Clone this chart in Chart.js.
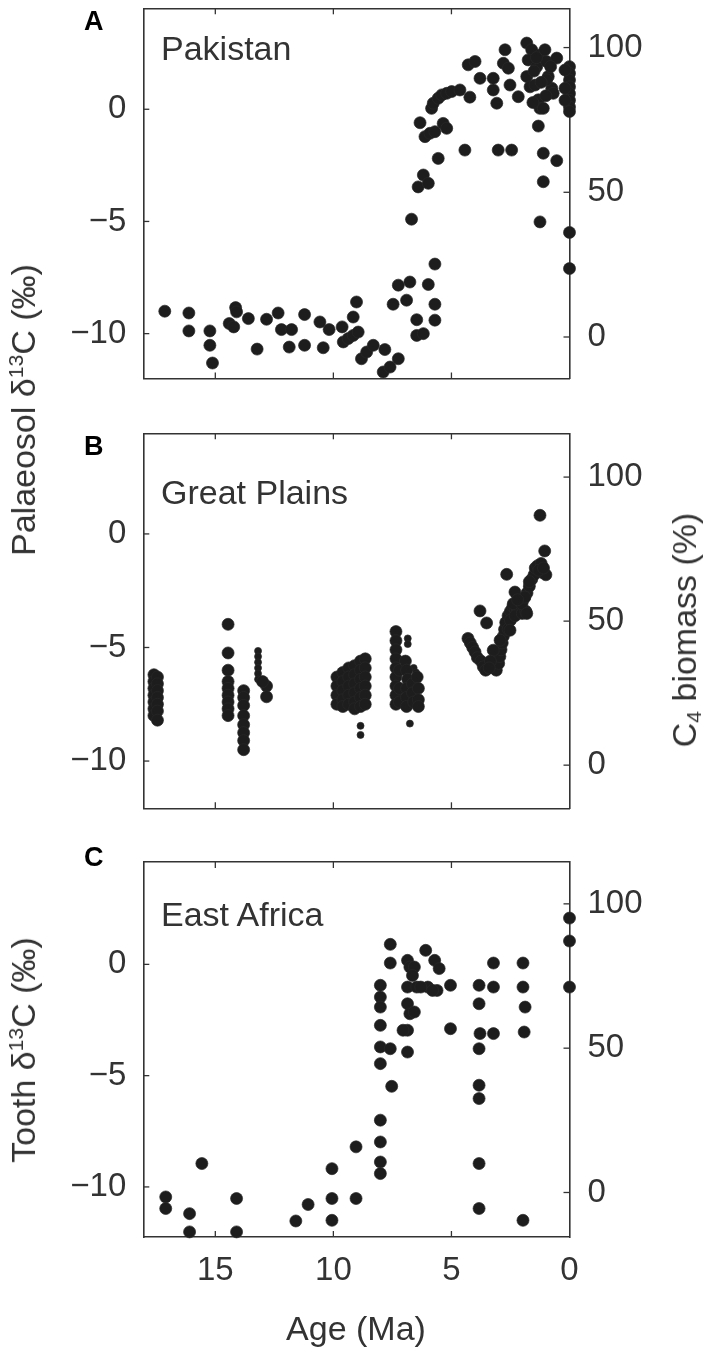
<!DOCTYPE html>
<html>
<head>
<meta charset="utf-8">
<script src="https://cdn.jsdelivr.net/npm/chart.js@4.4.1/dist/chart.umd.min.js"></script>
<style>
  html, body { margin:0; padding:0; background:#fff; }
  body { width:709px; height:1355px; position:relative; overflow:hidden;
         font-family:'Liberation Sans', Arial, Helvetica, sans-serif; }
  canvas { position:absolute; left:0; }
  .t { position:absolute; line-height:1; white-space:nowrap; color:#333; font-size:34px; }
  .vc { transform:translate(0,-50%); }
  .cc { transform:translate(-50%,-50%); }
  .rot { transform:translate(-50%,-50%) rotate(-90deg); }
  .bold { font-weight:bold; color:#000; font-size:27px; }
  .sup { font-size:0.62em; position:relative; top:-0.55em; }
  .sub { font-size:0.62em; position:relative; top:0.25em; }
</style>
</head>
<body>
<canvas id="cA" width="709" height="420" style="top:0px"></canvas>
<canvas id="cB" width="709" height="420" style="top:420px"></canvas>
<canvas id="cC" width="709" height="515" style="top:840px"></canvas>

<div class="t bold vc" style="left:84px;top:21px">A</div>
<div class="t bold vc" style="left:84px;top:446px">B</div>
<div class="t bold vc" style="left:84px;top:857px">C</div>

<div class="t vc" style="left:161px;top:48px">Pakistan</div>
<div class="t vc" style="left:161px;top:492px">Great Plains</div>
<div class="t vc" style="left:161px;top:914px">East Africa</div>

<div class="t rot" style="left:23px;top:410px">Palaeosol δ<span class="sup">13</span>C (‰)</div>
<div class="t rot" style="left:684px;top:630px">C<span class="sub">4</span> biomass (%)</div>
<div class="t rot" style="left:23px;top:1050px">Tooth δ<span class="sup">13</span>C (‰)</div>
<div class="t cc" style="left:356px;top:1328px">Age (Ma)</div>

<script>
// ---------- tick labels ----------
const xTicks = [15, 10, 5, 0];
const leftTicks = [-10, -5, 0];
const rightTicks = [0, 50, 100];

// ---------- A: Pakistan (age Ma, palaeosol d13C) ----------
const pakAge = [
 17.14,16.12,16.12,15.23,15.23,15.12,14.41,14.22,14.14,14.1,13.6,13.23,12.83,12.34,12.2,11.77,11.87,11.22,11.22,10.57,
 10.18,10.43,9.63,9.16,9.02,9.58,9.37,9.16,8.95,8.81,8.59,8.31,7.82,7.89,7.6,7.25,7.47,7.25,6.76,6.9,
 5.98,5.7,5.7,5.7,6.47,6.47,6.19,6.69,1.25,0.0,0.0,
 6.33,6.19,6.41,5.98,6.12,5.91,5.7,5.56,5.35,5.2,5.84,5.77,5.56,5.41,5.2,4.99,4.64,4.22,4.43,4.29,
 4.0,3.79,3.23,3.23,3.08,3.02,2.45,2.73,2.8,2.59,2.52,2.17,1.81,1.6,1.75,1.81,1.67,1.39,1.25,1.04,
 0.97,0.9,0.75,0.69,0.54,1.32,1.25,1.11,1.32,1.11,0.54,1.11,1.46,0.97,0.0,0.0,0.0,0.0,0.0,0.0,
 0.0,0.0,0.19,0.19,0.19,1.5,1.2,1.0,1.55,1.4,0.8
];
const pakD13C = [
 -9.0,-9.08,-9.88,-9.88,-10.52,-11.31,-9.55,-9.7,-8.84,-9.03,-9.33,-10.69,-9.36,-9.08,-9.82,-9.82,-10.6,-9.15,-10.52,-9.48,
 -9.82,-10.63,-9.7,-9.26,-8.59,-10.37,-10.22,-10.08,-9.93,-11.12,-10.82,-10.52,-10.71,-11.71,-11.49,-11.12,-8.69,-7.84,-7.7,-8.51,
 -7.81,-6.9,-8.69,-9.4,-9.38,-10.08,-10.0,-4.9,-5.02,-5.49,-7.1,
 -0.6,-2.93,-3.46,-3.3,-1.22,-1.07,-1.0,-2.19,-0.63,-0.85,0.04,0.27,0.49,0.64,0.71,0.79,0.86,0.54,-1.82,1.98,
 2.13,1.38,1.38,0.86,0.27,-1.82,-1.82,2.65,2.05,1.83,1.08,0.56,2.95,2.65,2.2,1.46,1.0,1.9,2.42,2.65,
 2.13,1.46,0.94,0.71,2.28,0.42,0.04,0.04,-0.75,-1.96,-2.29,-3.23,1.08,1.31,1.9,1.6,1.3,1.0,0.7,0.4,
 0.1,-0.1,1.75,0.94,0.4,1.7,1.2,0.6,0.3,2.3,1.9
];

// ---------- B: Great Plains ----------
const gpAge = [
 17.6,17.6,17.6,17.6,17.6,17.6,17.6,
 17.45,17.45,17.45,17.45,17.45,17.45,17.45,
 14.46,14.46,14.46,14.46,14.46,14.46,14.46,14.46,14.46,
 13.8,13.8,13.8,13.8,13.8,13.8,13.8,13.8,
 12.83,12.83,13.0,
 9.85,9.85,9.85,9.85, 9.6,9.6,9.6,9.6,9.6, 9.35,9.35,9.35,9.35,9.35,
 9.1,9.1,9.1,9.1,9.1,9.1, 8.85,8.85,8.85,8.85,8.85,8.85, 8.65,8.65,8.65,8.65,8.65,8.65,
 7.35,7.35,7.35,7.35,7.35,7.35,7.35,7.35,7.35, 7.2,7.2,7.2,
 6.95,6.9,6.85,6.9,6.9,6.9,6.65,6.65,6.6,6.45,6.4,6.4,6.4,
 4.3,4.2,4.1,4.0,3.9,3.75,3.65,3.55,3.1,3.0,2.95,2.9,2.85,2.8,2.75,2.7,2.6,2.5,2.4,2.3,
 2.2,2.1,2.0,1.9,1.8,1.7,1.6,1.5,1.45,1.35,1.2,1.15,1.0,1.05,1.25,2.66,3.79,3.51,
 2.6,2.5,2.3,2.0,1.85,3.23,2.94,2.52,2.38,2.31,2.03,1.89,1.81,
 3.35,3.4,2.2,1.7,1.3,1.1
];
const gpD13C = [
 -6.2,-6.5,-6.8,-7.1,-7.4,-7.7,-8.0,
 -6.3,-6.6,-6.9,-7.2,-7.5,-7.8,-8.2,
 -3.98,-5.24,-6.0,-6.5,-6.8,-7.1,-7.4,-7.7,-8.0,
 -6.9,-7.2,-7.55,-8.0,-8.4,-8.75,-9.1,-9.5,
 -6.7,-7.17,-6.5,
 -6.3,-6.7,-7.1,-7.5, -6.1,-6.5,-6.9,-7.3,-7.6, -5.9,-6.3,-6.7,-7.1,-7.5,
 -5.8,-6.2,-6.6,-7.0,-7.4,-7.7, -5.6,-6.0,-6.4,-6.8,-7.2,-7.6, -5.5,-5.9,-6.3,-6.7,-7.1,-7.5,
 -4.3,-4.7,-5.1,-5.5,-5.9,-6.3,-6.7,-7.1,-7.5, -6.0,-6.8,-7.4,
 -5.6,-6.0,-6.4,-6.8,-7.2,-7.6,-6.6,-7.0,-7.4,-6.3,-6.8,-7.3,-7.6,
 -4.6,-4.8,-5.0,-5.2,-5.45,-5.6,-5.85,-6.0,-6.0,-5.7,-5.4,-5.1,-4.8,-4.5,-4.2,-3.9,-3.6,-3.4,-3.2,-3.3,
 -3.4,-3.3,-3.0,-2.8,-2.6,-2.3,-2.0,-1.8,-1.5,-1.4,-1.3,-1.7,-1.8,-0.75,0.82,-1.78,-3.39,-3.92,
 -4.2,-3.8,-3.6,-3.5,-3.4,-5.12,-4.68,-4.24,-3.07,-2.56,-3.07,-2.78,-3.5,
 -5.6,-5.9,-2.9,-2.1,-1.6,-1.5
];
const gpSmallAge = [13.19,13.19,13.19,13.19,13.19,13.19,8.85,8.85,6.85,6.85,6.76,6.6,6.5];
const gpSmallD13C = [-5.15,-5.4,-5.65,-5.9,-6.15,-6.4,-8.45,-8.85,-4.6,-4.85,-8.35,-5.9,-6.1];

// ---------- C: East Africa (tooth d13C) ----------
const eaAge = [
 17.1,17.1,16.09,16.09,15.57,14.1,14.1,11.59,11.07,10.06,10.06,10.06,9.04,9.04,
 8.01,8.01,8.01,8.01,8.01,8.01,8.01,8.01,8.01,8.01,
 7.59,7.59,7.59,7.53,6.86,6.76,6.86,6.86,6.76,6.86,6.86,6.57,6.57,7.05,6.47,6.0,6.09,5.71,5.52,5.61,
 5.04,5.04,3.83,3.83,3.79,3.83,3.83,3.83,3.83,3.83,3.22,3.22,3.22,1.97,1.97,1.88,1.92,1.97,0,0,0,
 6.3,5.8,6.65
];
const eaD13C = [
 -10.45,-10.97,-11.2,-12.02,-8.95,-10.52,-12.02,-11.53,-10.79,-9.18,-10.52,-11.5,-10.52,-8.2,
 -7.0,-7.98,-8.88,-9.4,-0.94,-1.47,-1.92,-2.74,-3.71,-4.46,
 0.9,0.06,-3.79,-5.48,0.18,-0.12,-1.02,-1.77,-2.22,-2.96,-3.94,-0.12,-2.14,-2.96,-1.02,-1.02,0.63,0.18,-0.19,-1.17,
 -0.94,-2.89,-0.94,-1.77,-3.11,-3.79,-5.43,-6.03,-8.95,-10.97,0.06,-1.02,-3.11,0.06,-1.02,-1.92,-3.04,-11.5,2.08,1.05,-1.02,
 -1.02,-1.17,-0.5
];

// ---------- axis ranges per panel ----------
const xRange = [0, 18.05];
const pakY = [-12.0, 4.5],  pakPct = [-14.34, 113.57];
const gpY  = [-12.08, 4.43], gpPct = [-14.98, 115.2];
const eaY  = [-12.25, 4.6],  eaPct = [-15.42, 114.5];

const toPts = (xs, ys) => xs.map((x, i) => ({x: x, y: ys[i]}));

Chart.defaults.font.family = "'Liberation Sans', Arial, Helvetica, sans-serif";
Chart.defaults.color = '#333';

const inwardTicks = {
  id: 'inwardTicks',
  beforeDatasetsDraw(chart) {
    const {ctx, chartArea: a, scales} = chart;
    const L = 6;
    ctx.save();
    ctx.strokeStyle = '#333';
    ctx.lineWidth = 1.3;
    const line = (x1, y1, x2, y2) => { ctx.beginPath(); ctx.moveTo(x1, y1); ctx.lineTo(x2, y2); ctx.stroke(); };
    xTicks.forEach(v => {
      if (v === 0) return;
      const px = scales.x.getPixelForValue(v);
      line(px, a.bottom, px, a.bottom - L);
      line(px, a.top, px, a.top + L);
    });
    leftTicks.forEach(v => { const py = scales.y.getPixelForValue(v); line(a.left, py, a.left + L, py); });
    rightTicks.forEach(v => { const py = scales.y2.getPixelForValue(v); line(a.right, py, a.right - L, py); });
    ctx.restore();
  }
};

function fixW(w) { return s => { s.width = w; s.paddingTop = 0; s.paddingBottom = 0; s.paddingLeft = 0; s.paddingRight = 0; }; }
function fixH(h) { return s => { s.height = h; s.paddingTop = 0; s.paddingBottom = 0; s.paddingLeft = 0; s.paddingRight = 0; }; }
const setTicks = arr => s => { s.ticks = arr.map(v => ({value: v})); };
const border = {display: true, color: '#333', width: 1.6};
const tickFont = {size: 33};

function makePanel(id, datasets, yR, pR, topH, botH, showX) {
  new Chart(document.getElementById(id), {
    type: 'scatter',
    data: {datasets: datasets},
    options: {
      responsive: false, animation: false, devicePixelRatio: 1,
      layout: {padding: 0},
      plugins: {legend: {display: false}, tooltip: {enabled: false}},
      scales: {
        x: {type: 'linear', position: 'bottom', reverse: true, min: xRange[0], max: xRange[1],
            afterBuildTicks: setTicks(xTicks), afterFit: fixH(botH),
            grid: {display: false, drawTicks: false}, border: border,
            ticks: {display: showX, font: tickFont, color: '#333', padding: 14, maxRotation: 0, autoSkip: false,
                    callback: v => String(v)}},
        x2: {type: 'linear', position: 'top', reverse: true, min: xRange[0], max: xRange[1],
            afterFit: fixH(topH), grid: {display: false, drawTicks: false}, border: border,
            ticks: {display: false}},
        y: {type: 'linear', position: 'left', min: yR[0], max: yR[1],
            afterBuildTicks: setTicks(leftTicks), afterFit: fixW(143.3),
            grid: {display: false, drawTicks: false}, border: border,
            ticks: {font: tickFont, color: '#333', padding: 17,
                    callback: v => v < 0 ? '\u2212' + Math.abs(v) : String(v)}},
        y2: {type: 'linear', position: 'right', min: pR[0], max: pR[1],
            afterBuildTicks: setTicks(rightTicks), afterFit: fixW(139.5),
            grid: {display: false, drawTicks: false}, border: border,
            ticks: {font: tickFont, color: '#333', padding: 18, callback: v => String(v)}}
      }
    },
    plugins: [inwardTicks]
  });
}

const dotStyle = {pointRadius: 6, pointBackgroundColor: '#1d1d1d', pointBorderColor: 'rgba(40,40,40,0.7)',
                  pointBorderWidth: 1, showLine: false, clip: false, yAxisID: 'y', xAxisID: 'x'};

makePanel('cA', [Object.assign({label: 'Pakistan', data: toPts(pakAge, pakD13C)}, dotStyle)],
          pakY, pakPct, 8.3, 41.5, false);
makePanel('cB', [Object.assign({label: 'Great Plains', data: toPts(gpAge, gpD13C)}, dotStyle),
                 Object.assign({label: 'Great Plains (small)', data: toPts(gpSmallAge, gpSmallD13C)}, dotStyle,
                               {pointRadius: 3.5})],
          gpY, gpPct, 13.3, 31.7, false);
makePanel('cC', [Object.assign({label: 'East Africa', data: toPts(eaAge, eaD13C)}, dotStyle)],
          eaY, eaPct, 22, 118, true);
</script>
</body>
</html>
